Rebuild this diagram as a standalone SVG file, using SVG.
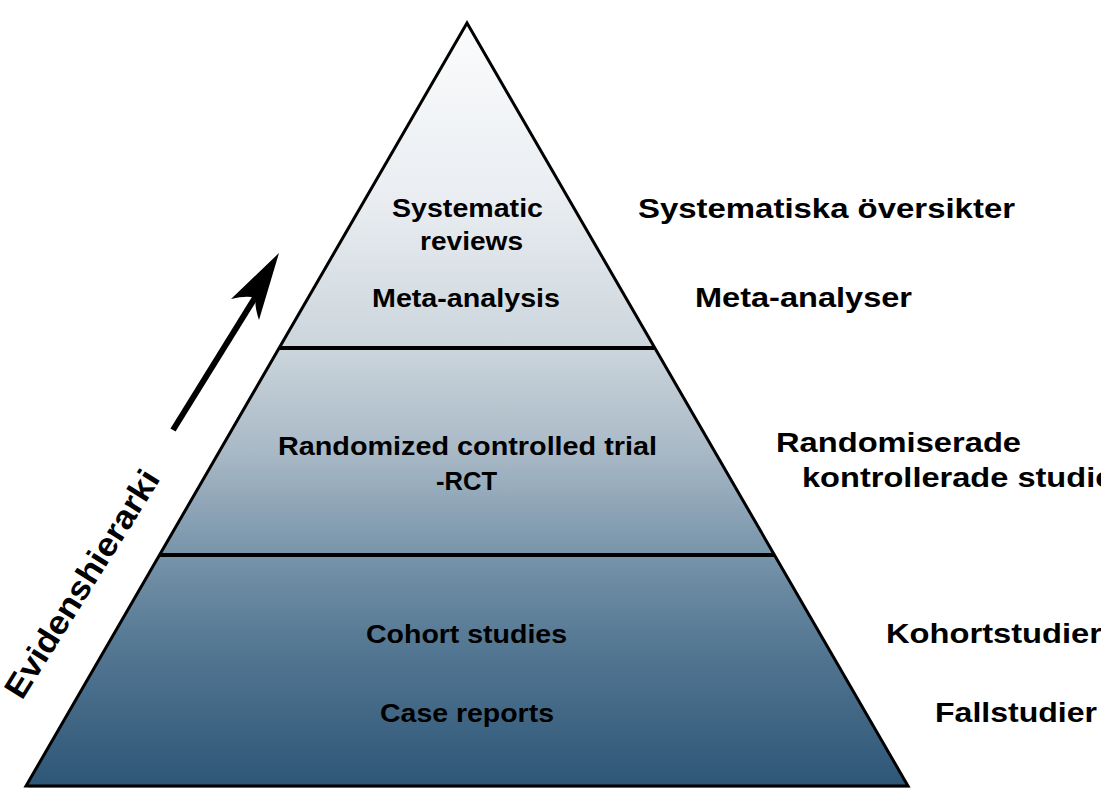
<svg xmlns="http://www.w3.org/2000/svg" width="1101" height="805" viewBox="0 0 1101 805">
  <defs>
    <linearGradient id="pyr" gradientUnits="userSpaceOnUse" x1="0" y1="23" x2="0" y2="786">
      <stop offset="0" stop-color="#fbfcfd"/>
      <stop offset="0.232" stop-color="#e9edf1"/>
      <stop offset="0.426" stop-color="#cbd5dc"/>
      <stop offset="0.56" stop-color="#a9b9c6"/>
      <stop offset="0.697" stop-color="#7794aa"/>
      <stop offset="0.809" stop-color="#567994"/>
      <stop offset="1" stop-color="#2e5677"/>
    </linearGradient>
    <style>
      .lbl { font-family: "Liberation Sans", Arial, sans-serif; font-weight: bold; fill: #000; }
      .in { font-size: 25.5px; }
      .out { font-size: 28.5px; }
      .edge { stroke: #000; stroke-width: 3; fill: none; }
      .div { stroke: #000; stroke-width: 4; }
    </style>
  </defs>
  <rect width="1101" height="805" fill="#fff"/>

  <g id="pyramid">
    <polygon points="468,25 910,788 28,788" fill="#9a9a9a" opacity="0.6"/>
    <polygon points="467,23 908,786 26,786" fill="url(#pyr)"/>
    <polygon class="edge" points="467,23 908,786 26,786" stroke-linejoin="miter"/>
  </g>

  <g id="connectors">
    <line class="div" x1="280" y1="348" x2="654" y2="348"/>
    <line class="div" x1="160" y1="555" x2="774" y2="555"/>
    <line x1="173" y1="430" x2="256" y2="296" stroke="#000" stroke-width="6"/>
    <path d="M279,253 L259,320 Q254,305 256,298 Q247,295 231,299 Z" fill="#000"/>
  </g>

  <g id="level-top">
    <text class="lbl in" x="392" y="217" textLength="151" lengthAdjust="spacingAndGlyphs">Systematic</text>
    <text class="lbl in" x="420" y="250" textLength="103" lengthAdjust="spacingAndGlyphs">reviews</text>
    <text class="lbl in" x="372" y="307" textLength="188" lengthAdjust="spacingAndGlyphs">Meta-analysis</text>
  </g>
  <g id="level-middle">
    <text class="lbl in" x="278" y="455" textLength="379" lengthAdjust="spacingAndGlyphs">Randomized controlled trial</text>
    <text class="lbl in" x="436" y="490" textLength="61" lengthAdjust="spacingAndGlyphs">-RCT</text>
  </g>
  <g id="level-bottom">
    <text class="lbl in" x="366" y="643" textLength="201" lengthAdjust="spacingAndGlyphs">Cohort studies</text>
    <text class="lbl in" x="380" y="722" textLength="174" lengthAdjust="spacingAndGlyphs">Case reports</text>
  </g>

  <g id="labels-swedish">
    <text class="lbl out" x="638" y="218" textLength="377" lengthAdjust="spacingAndGlyphs">Systematiska översikter</text>
    <text class="lbl out" x="695" y="307" textLength="217" lengthAdjust="spacingAndGlyphs">Meta-analyser</text>
    <text class="lbl out" x="776" y="452" textLength="245" lengthAdjust="spacingAndGlyphs">Randomiserade</text>
    <text class="lbl out" x="802" y="487" textLength="324" lengthAdjust="spacingAndGlyphs">kontrollerade studier</text>
    <text class="lbl out" x="886" y="643" textLength="216" lengthAdjust="spacingAndGlyphs">Kohortstudier</text>
    <text class="lbl out" x="935" y="722" textLength="162" lengthAdjust="spacingAndGlyphs">Fallstudier</text>
  </g>

  <g id="axis-label" transform="translate(22,701) rotate(-58)">
    <text class="lbl" x="0" y="0" font-size="33" textLength="262" lengthAdjust="spacingAndGlyphs">Evidenshierarki</text>
  </g>
</svg>
